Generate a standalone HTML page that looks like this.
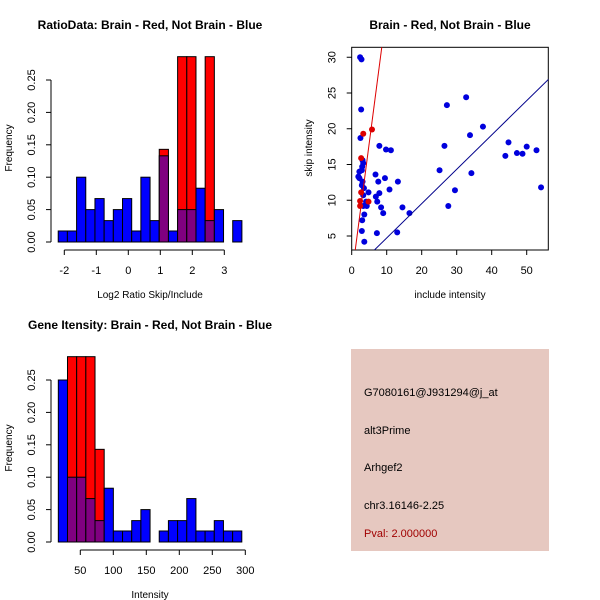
<!DOCTYPE html>
<html><head><meta charset="utf-8"><style>
html,body{margin:0;padding:0;background:#fff;}
svg{display:block;font-family:"Liberation Sans",sans-serif;}
</style></head><body>
<svg id="root" width="600" height="600" viewBox="0 0 600 600" xmlns="http://www.w3.org/2000/svg">
<defs><clipPath id="sc-clip"><rect x="351.7" y="47.3" width="196.6" height="202.7"/></clipPath></defs>
<g id="p1"></g>
<g id="p2"></g>
<g id="p3"></g>
<g>
<rect x="351" y="349" width="198" height="202" fill="#e6c8c0"/>
<text x="364" y="396" font-size="11">G7080161@J931294@j_at</text>
<text x="364" y="434" font-size="11">alt3Prime</text>
<text x="364" y="471" font-size="11">Arhgef2</text>
<text x="364" y="509" font-size="11">chr3.16146-2.25</text>
<text x="364" y="537" font-size="11" fill="#a00000">Pval: 2.000000</text>
</g>
</svg>
<script>
// ---- histogram 1 data ----
const ratioBinStart = -2.19;
const ratioBinWidth = 0.287;
const ratioBlue = [0.017,0.017,0.10,0.05,0.067,0.033,0.05,0.067,0.017,0.10,0.033,0.133,0.017,0.05,0.05,0.083,0.033,0.05,0,0.033];
const ratioRed  = [0,0,0,0,0,0,0,0,0,0,0,0.143,0,0.286,0.286,0,0.286,0,0,0];
const ratioXTicks = [-2,-1,0,1,2,3];
const freqTicks = [0,0.05,0.10,0.15,0.20,0.25];
const freqTickLabels = ["0.00","0.05","0.10","0.15","0.20","0.25"];
// ---- histogram 2 data ----
const intBinStart = 16.7;
const intBinWidth = 13.9;
const intBlue = [0.25,0.10,0.10,0.067,0.033,0.083,0.017,0.017,0.033,0.05,0,0.017,0.033,0.033,0.067,0.017,0.017,0.033,0.017,0.017];
const intRed  = [0,0.286,0.286,0.286,0.143,0,0,0,0,0,0,0,0,0,0,0,0,0,0,0];
const intXTicks = [50,100,150,200,250,300];
// ---- scatter data ----
const blueX = [2.4,2.8,2.7,2.5,3.1,3.3,3.0,2.9,2.2,1.9,2.2,3.1,2.9,3.5,4.8,3.3,4.1,3.3,4.3,3.6,3.0,2.9,3.6,6.8,7.9,9.8,11.2,7.6,9.5,13.2,10.8,7.9,6.9,7.3,8.4,14.5,9.0,16.5,7.2,13.0,25.1,26.5,27.2,32.7,33.8,37.5,34.2,29.5,27.6,43.9,44.8,47.2,48.8,50.0,52.8,54.1];
const blueY = [30.0,29.7,22.7,18.7,15.6,15.2,14.7,14.2,14.0,13.3,13.1,12.6,12.1,11.7,11.1,10.7,9.8,9.2,9.2,8.0,7.2,5.7,4.2,13.6,17.6,17.1,17.0,12.6,13.1,12.6,11.5,11.0,10.5,9.8,9.0,9.0,8.2,8.2,5.4,5.5,14.2,17.6,23.3,24.4,19.1,20.3,13.8,11.4,9.2,16.2,18.1,16.6,16.5,17.5,17.0,11.8];
const redX = [2.7,2.7,2.4,4.8,2.4,3.3,5.8];
const redY = [15.9,11.1,9.9,9.8,9.2,19.3,19.9];
const redLine = [-0.74,3.74];  // intercept, slope
const blueLine = [-0.07,0.48];
const scXTicks = [0,10,20,30,40,50];
const scYTicks = [5,10,15,20,25,30];

const NS="http://www.w3.org/2000/svg";
function mk(parent,tag,attrs,name,txt){
  const el=document.createElementNS(NS,tag);
  for(const k in attrs) el.setAttribute(k,attrs[k]);
  
  
  if(txt!==undefined) el.textContent=txt;
  parent.appendChild(el); return el;
}

function hist(g,oy,binStart,binW,blue,red,xTicks,sc,title,xlab){
  const k=sc.k, x0=sc.px, v0=sc.v;
  const X=v=>x0+(v-v0)*k;
  const Y=f=>oy+242-f*648;
  for(let i=0;i<blue.length;i++){
    const a=X(binStart+i*binW), b=X(binStart+(i+1)*binW);
    const bl=blue[i], rd=red[i];
    const hi=Math.max(bl,rd), lo=Math.min(bl,rd);
    if(hi>0){
      mk(g,'rect',{x:a,y:Y(hi),width:b-a,height:Y(0)-Y(hi),fill:rd>bl?'#ff0000':'#0000ff',stroke:'#000','stroke-width':1},'bar-'+i);
    }
    if(lo>0){
      mk(g,'rect',{x:a,y:Y(lo),width:b-a,height:Y(0)-Y(lo),fill:'#800080',stroke:'#000','stroke-width':1},'overlap-bar-'+i);
    }
  }
  const ax=51;
  mk(g,'line',{x1:ax,y1:Y(0),x2:ax,y2:Y(0.25),stroke:'#000'},'y-axis');
  freqTicks.forEach((t,i)=>{
    mk(g,'line',{x1:ax-5,y1:Y(t),x2:ax,y2:Y(t),stroke:'#000'},'y-tick');
    mk(g,'text',{x:ax-19,y:Y(t),'font-size':11,'text-anchor':'middle',transform:`rotate(-90 ${ax-19} ${Y(t)})`,'dominant-baseline':'central'},'y-tick-label',freqTickLabels[i]);
  });
  const ay=oy+250;
  mk(g,'line',{x1:X(xTicks[0]),y1:ay,x2:X(xTicks[xTicks.length-1]),y2:ay,stroke:'#000'},'x-axis');
  xTicks.forEach(t=>{
    mk(g,'line',{x1:X(t),y1:ay,x2:X(t),y2:ay+5,stroke:'#000'},'x-tick');
    mk(g,'text',{x:X(t),y:ay+24,'font-size':11,'text-anchor':'middle'},'x-tick-label',String(t));
  });
  mk(g,'text',{x:150,y:oy+29,'font-size':12,'font-weight':'bold','text-anchor':'middle'},'chart-title',title);
  mk(g,'text',{x:150,y:oy+298,'font-size':10,'text-anchor':'middle'},'x-axis-title',xlab);
  mk(g,'text',{x:12,y:oy+148,'font-size':10,'text-anchor':'middle',transform:`rotate(-90 12 ${oy+148})`},'y-axis-title','Frequency');
}

hist(document.getElementById('p1'),0,ratioBinStart,ratioBinWidth,ratioBlue,ratioRed,ratioXTicks,{px:64.3,v:-2,k:32},'RatioData: Brain - Red, Not Brain - Blue','Log2 Ratio Skip/Include');
hist(document.getElementById('p3'),300,intBinStart,intBinWidth,intBlue,intRed,intXTicks,{px:80.3,v:50,k:0.66},'Gene Itensity: Brain - Red, Not Brain - Blue','Intensity');

(function(){
  const g=document.getElementById('p2');
  const X=v=>351.7+v*3.5;
  const Y=v=>236-(v-5)*7.15;
  mk(g,'rect',{x:351.7,y:47.3,width:196.6,height:202.7,fill:'none',stroke:'#000'},'plot-frame');
  const cg=mk(g,'g',{'clip-path':'url(#sc-clip)'},'plot-area');
  blueX.forEach((x,i)=>mk(cg,'circle',{cx:X(x),cy:Y(blueY[i]),r:3,fill:'#0000dd'},'blue-point'));
  redX.forEach((x,i)=>mk(cg,'circle',{cx:X(x),cy:Y(redY[i]),r:3,fill:'#dd0000'},'red-point'));
  const ln=(c,col,name)=>mk(cg,'line',{x1:X(-5),y1:Y(c[0]+c[1]*-5),x2:X(60),y2:Y(c[0]+c[1]*60),stroke:col,'stroke-width':1},name);
  ln(redLine,'#dd0000','red-fit-line');
  ln(blueLine,'#00008b','blue-fit-line');
  scXTicks.forEach(t=>{
    mk(g,'line',{x1:X(t),y1:250,x2:X(t),y2:255,stroke:'#000'},'x-tick');
    mk(g,'text',{x:X(t),y:274,'font-size':11,'text-anchor':'middle'},'x-tick-label',String(t));
  });
  scYTicks.forEach(t=>{
    mk(g,'line',{x1:346.7,y1:Y(t),x2:351.7,y2:Y(t),stroke:'#000'},'y-tick');
    mk(g,'text',{x:332.7,y:Y(t),'font-size':11,'text-anchor':'middle','dominant-baseline':'central',transform:`rotate(-90 332.7 ${Y(t)})`},'y-tick-label',String(t));
  });
  mk(g,'text',{x:450,y:29,'font-size':12,'font-weight':'bold','text-anchor':'middle'},'chart-title','Brain - Red, Not Brain - Blue');
  mk(g,'text',{x:450,y:298,'font-size':10,'text-anchor':'middle'},'x-axis-title','include intensity');
  mk(g,'text',{x:312,y:148,'font-size':10,'text-anchor':'middle',transform:'rotate(-90 312 148)'},'y-axis-title','skip intensity');
})();
</script>
</body></html>
